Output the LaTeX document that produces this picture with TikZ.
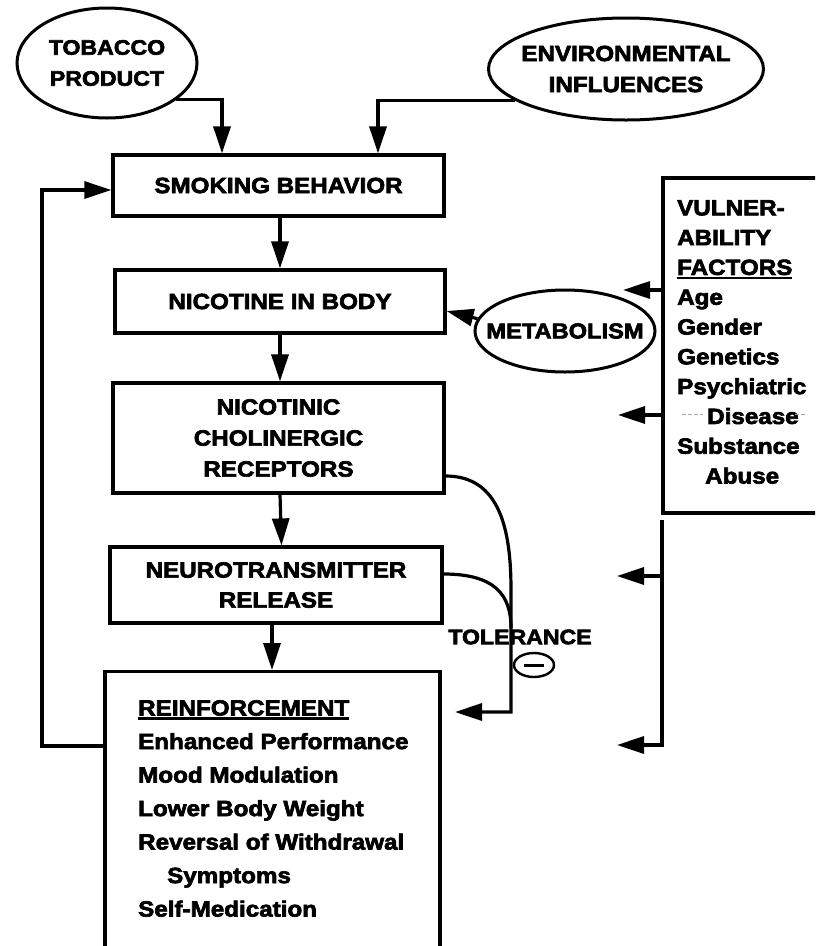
\documentclass[tikz,border=0pt]{standalone}
\usepackage{fontspec}
\setmainfont{Liberation Sans}[FakeStretch=1.1,BoldFeatures={FakeBold=3}]
\usetikzlibrary{shapes.geometric,arrows.meta}
\newcommand\myul[1]{\setbox0\hbox{#1}\rlap{\rule[-4pt]{\wd0}{2.2pt}}\box0}
\newcommand\zb[1]{\makebox[0pt]{#1}}
\begin{document}
\begin{tikzpicture}[x=1pt,y=-1pt,
  every node/.style={font=\bfseries\fontsize{22}{31}\selectfont},
  ln/.style={line width=3.2pt},
  arr/.style={line width=3.2pt,-{Triangle[length=27pt,width=17pt]}},
  oval/.style={draw,ellipse,line width=3pt,inner sep=0pt,align=center},
  boxn/.style={draw,rectangle,line width=3.2pt,inner sep=0pt,align=center}]
\useasboundingbox (0,0) rectangle (815,946);
\clip (0,0) rectangle (815,946);
% top ovals
\node[oval,minimum width=180pt,minimum height=110pt,font=\bfseries\fontsize{21}{31}\selectfont] (tob) at (107,63) {\zb{TOBACCO}\\\zb{PRODUCT}};
\node[oval,minimum width=275pt,minimum height=102pt] (env) at (626,69) {\zb{ENVIRONMENTAL}\\\zb{INFLUENCES}};
% main chain
\node[boxn,minimum width=331pt,minimum height=61pt] (smoke) at (278.5,185.5) {SMOKING BEHAVIOR};
\node[boxn,minimum width=330pt,minimum height=63pt] (nic) at (280,301.5) {NICOTINE IN BODY};
\node[boxn,minimum width=331pt,minimum height=110pt] (rec) at (278.5,438) {NICOTINIC\\CHOLINERGIC\\RECEPTORS};
\node[boxn,minimum width=332pt,minimum height=76pt,font=\bfseries\fontsize{22}{30}\selectfont] (neuro) at (276,585) {NEUROTRANSMITTER\\RELEASE};
\node[boxn,minimum width=335pt,minimum height=330pt,anchor=north] (reinf) at (272.5,670) {};
\node[anchor=north west,inner sep=0pt,align=left,font=\bfseries\fontsize{22}{33.5}\selectfont] (reinft) at (138,700)
  {\myul{REINFORCEMENT}\\Enhanced Performance\\Mood Modulation\\Lower Body Weight\\Reversal of Withdrawal\\\hspace*{29pt}Symptoms\\Self-Medication};
% metabolism
\node[oval,minimum width=180pt,minimum height=82pt,font=\bfseries\fontsize{21.5}{31}\selectfont] (met) at (565,331) {\zb{METABOLISM}};
% vulnerability
\node[boxn,minimum width=177pt,minimum height=335pt] (vul) at (751.5,345.5) {};
\node[anchor=north west,inner sep=0pt,align=left,font=\bfseries\fontsize{22}{29.8}\selectfont] (vult) at (677,200)
  {VULNER-\\ABILITY\\\myul{FACTORS}\\Age\\Gender\\Genetics\\Psychiatric\\\hspace*{30pt}Disease\\Substance\\\hspace*{28pt}Abuse};
\coordinate (dl1) at (682,414); \coordinate (dl2) at (703,414);
\coordinate (dr1) at (795,414); \coordinate (dr2) at (807,414);
\draw[gray!70,line width=0.8pt,dash pattern=on 4pt off 2pt] (dl1) -- (dl2);
\draw[gray!70,line width=0.8pt,dash pattern=on 4pt off 2pt] (dr1) -- (dr2);
% connectors
\draw[arr] (tob.-28) -| ([xshift=-56.5]smoke.north);
\draw[arr] (env.196) -| ([xshift=99.5]smoke.north);
\draw[arr] ([xshift=1.5]smoke.south) -- (nic.north);
\draw[arr] (nic.south) -- ([xshift=1.5]rec.north);
\draw[arr] ([xshift=1.5]rec.south) -- ([xshift=5.5]neuro.north);
\draw[arr] ([xshift=-4]neuro.south) -- ([xshift=-0.5]reinf.north);
\coordinate (fbc) at (42,190);
\draw[arr] ([yshift=-76]reinf.north west) -| (fbc) -- ([yshift=-4.5]smoke.west);
\draw[arr] (met.172) -- ([yshift=-9.5]nic.east);
\coordinate (va) at (623,290); \coordinate (vb) at (618,415);
\draw[arr] ([yshift=55.5]vul.west) -- (va);
\draw[arr] ([yshift=-69.5]vul.west) -- (vb);
\coordinate (vt) at (662,520); \coordinate (vc) at (617,576); \coordinate (vd) at (617,745);
\draw[arr] (vt) |- (vd);
\draw[arr] (vt |- vc) -- (vc);
% tolerance
\coordinate (tj) at (511,712); \coordinate (tt) at (455,712);
\draw[arr] ([yshift=-38]rec.east) .. controls (500,476) and (511,530) .. (511,590) -- (tj) -- (tt);
\draw[ln] ([yshift=11]neuro.east) .. controls (495,574) and (511,595) .. (511,628);
\node[font=\bfseries\fontsize{21}{31}\selectfont] (tol) at (520,637) {TOLERANCE};
\node[draw,ellipse,line width=2.4pt,minimum width=40pt,minimum height=24pt,inner sep=0pt] (minus) at (534,665) {\rule{20pt}{3pt}};
\end{tikzpicture}
\end{document}
